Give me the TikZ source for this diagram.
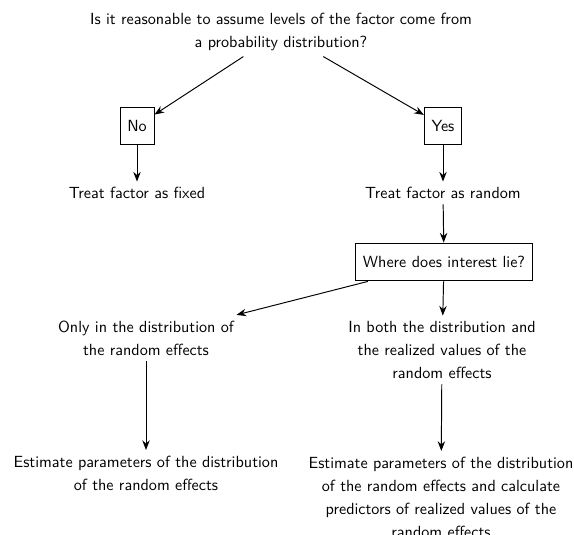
\documentclass[tikz,border=0pt]{standalone}
\usepackage{tikz}
\usetikzlibrary{arrows.meta}
\tikzset{
    choice/.style={draw, semithick, minimum height=23.5pt, inner xsep=4.5pt},
    answer/.style={align=center},
    flow/.style={->, >={Stealth[length=6pt, width=4.6pt, inset=2pt]}, semithick}
}

\begin{document}
\begin{tikzpicture}[x=0.62pt, y=-0.62pt, font=\fontsize{10}{14.3}\selectfont\sffamily]
    \useasboundingbox (0,0) rectangle (574,535);

    % Question at the top
    \node[answer] (q) at (281,32) {Is it reasonable to assume levels of the factor come from\\a probability distribution?};

    % Yes / No
    \node[choice] (no) at (137,126) {No};
    \node[choice] (yes) at (443,126) {Yes};
    \node[answer] (fixed) at (137,193) {Treat factor as fixed};
    \node[answer] (random) at (443,193) {Treat factor as random};

    % Interest
    \node[choice] (where) at (444,262) {Where does interest lie?};
    \node[answer] (only) at (146,338) {Only in the distribution of\\the random effects};
    \node[answer] (both) at (442,350) {In both the distribution and\\the realized values of the\\random effects};

    % Estimation
    \node[answer] (estonly) at (146,473) {Estimate parameters of the distribution\\of the random effects};
    \node[answer] (estboth) at (441,497) {Estimate parameters of the distribution\\of the random effects and calculate\\predictors of realized values of the\\random effects};

    % Arrows
    \draw[flow] (q) -- (no);
    \draw[flow] (q) -- (yes);
    \draw[flow] (no) -- (fixed);
    \draw[flow] (yes) -- (random);
    \draw[flow] (random) -- (where);
    \draw[flow] (where) -- (only);
    \draw[flow] (where) -- (both);
    \draw[flow] (only) -- (estonly);
    \draw[flow] (both) -- (estboth);

\end{tikzpicture}
\end{document}
